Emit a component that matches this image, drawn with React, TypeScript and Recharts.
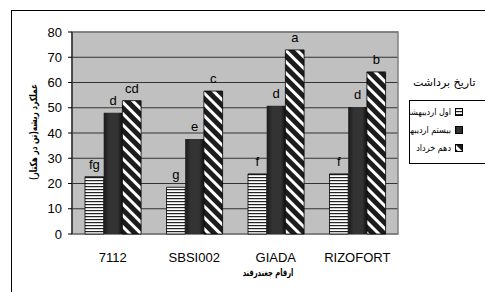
import { BarChart, Bar, XAxis, YAxis, CartesianGrid, LabelList, ReferenceArea } from "recharts";

const categories = ["7112", "SBSI002", "GIADA", "RIZOFORT"];
const firstOrdibehesht = [22.7, 18.5, 23.8, 23.8];
const twentiethOrdibehesht = [48.0, 37.6, 50.8, 50.3];
const tenthKhordad = [52.8, 56.6, 72.9, 64.2];
const firstLetters = ["fg", "g", "f", "f"];
const twentiethLetters = ["d", "e", "d", "d"];
const tenthLetters = ["cd", "c", "a", "b"];
const yTicks = [0, 10, 20, 30, 40, 50, 60, 70, 80];
const seriesNames = ["اول اردیبهشت", "بیستم اردیبهشت", "دهم خرداد"];
const seriesFills = ["url(#hstripe)", "url(#darkfill)", "url(#dstripe)"];

const data = categories.map((name, i) => ({
  name,
  s1: firstOrdibehesht[i],
  s2: twentiethOrdibehesht[i],
  s3: tenthKhordad[i],
  l1: firstLetters[i],
  l2: twentiethLetters[i],
  l3: tenthLetters[i],
}));

const LATIN = "'Liberation Sans', Arial, sans-serif";
const PERSIAN = "'DejaVu Sans Condensed', 'DejaVu Sans', sans-serif";

function Patterns() {
  return (
    <svg width={0} height={0} style={{ position: "absolute" }}>
      <defs>
        <pattern id="hstripe" width={4} height={3} patternUnits="userSpaceOnUse">
          <rect width={4} height={3} fill="#ffffff" />
          <rect y={0} width={4} height={1.2} fill="#222" />
        </pattern>
        <linearGradient id="darkfill" x1="0" y1="0" x2="1" y2="0">
          <stop offset="0%" stopColor="#1a1a1a" />
          <stop offset="30%" stopColor="#333" />
          <stop offset="75%" stopColor="#333" />
          <stop offset="100%" stopColor="#111" />
        </linearGradient>
        <pattern id="dstripe" width={8} height={8} patternUnits="userSpaceOnUse" patternTransform="rotate(45)">
          <rect width={8} height={8} fill="#1c1c1c" />
          <rect y={0} width={8} height={3} fill="#ffffff" />
        </pattern>
      </defs>
    </svg>
  );
}

export default function App() {
  return (
    <div
      style={{
        position: "absolute",
        left: 0,
        top: 0,
        width: 485,
        height: 292,
        background: "#fff",
        overflow: "hidden",
      }}
    >
      <Patterns />
      <div
        style={{
          position: "absolute",
          left: 11,
          top: 10,
          width: 520,
          height: 320,
          border: "1px solid #000",
        }}
      />
      <div style={{ position: "absolute", left: 0, top: 0 }}>
        <BarChart
          width={410}
          height={292}
          data={data}
          margin={{ top: 32, right: 12, bottom: 28, left: 0 }}
          barGap={0}
          barSize={18.7}
        >
          <CartesianGrid horizontal vertical={false} fill="#c0c0c0" stroke="#333" />
          <XAxis
            xAxisId="edge"
            type="number"
            domain={[0, 4]}
            ticks={[0, 1, 2, 3, 4]}
            tick={() => <g />}
            height={0}
            tickSize={5}
            axisLine={{ stroke: "#000" }}
            tickLine={{ stroke: "#000" }}
          />
          <XAxis
            dataKey="name"
            height={30}
            axisLine={false}
            tickLine={false}
            tickMargin={13}
            tick={{ fill: "#000", fontSize: 13, fontFamily: LATIN }}
          />
          <YAxis
            width={72}
            domain={[0, 80]}
            ticks={yTicks}
            interval={0}
            tickSize={4}
            tickMargin={6}
            axisLine={{ stroke: "#000" }}
            tickLine={{ stroke: "#000" }}
            tick={{ fill: "#000", fontSize: 13, fontFamily: LATIN }}
          />
          <ReferenceArea y1={0} y2={80} fill="none" stroke="#808080" strokeWidth={1.5} />
          <Bar dataKey="s1" fill={seriesFills[0]} stroke="#000" strokeWidth={0.8} isAnimationActive={false}>
            <LabelList dataKey="l1" position="top" offset={8} fill="#000" fontSize={13} fontFamily={LATIN} />
          </Bar>
          <Bar dataKey="s2" fill={seriesFills[1]} isAnimationActive={false}>
            <LabelList dataKey="l2" position="top" offset={8} fill="#000" fontSize={13} fontFamily={LATIN} />
          </Bar>
          <Bar dataKey="s3" fill={seriesFills[2]} stroke="#000" strokeWidth={0.8} isAnimationActive={false}>
            <LabelList dataKey="l3" position="top" offset={8} fill="#000" fontSize={13} fontFamily={LATIN} />
          </Bar>
        </BarChart>
      </div>

      {/* y axis title */}
      <div
        style={{
          position: "absolute",
          left: 33,
          top: 132,
          transform: "translate(-50%, -50%) rotate(-90deg) scaleX(0.82)",
          whiteSpace: "nowrap",
          fontFamily: PERSIAN,
          fontWeight: "bold",
          fontSize: 10,
          direction: "rtl",
        }}
      >
        عملکرد ریشه(تن در هکتار)
      </div>

      {/* x axis title */}
      <div
        style={{
          position: "absolute",
          left: 268,
          top: 272,
          transform: "translate(-50%, -50%) scaleX(0.75)",
          whiteSpace: "nowrap",
          fontFamily: PERSIAN,
          fontWeight: "bold",
          fontSize: 10,
          direction: "rtl",
        }}
      >
        ارقام چغندرقند
      </div>

      {/* legend */}
      <div
        style={{
          position: "absolute",
          left: 413,
          top: 82,
          transform: "translateY(-50%)",
          whiteSpace: "nowrap",
          fontFamily: "'DejaVu Sans', sans-serif",
          fontSize: 11,
          direction: "rtl",
        }}
      >
        تاریخ برداشت
      </div>
      <div
        style={{
          position: "absolute",
          left: 409,
          top: 100,
          width: 100,
          height: 62,
          border: "1px solid #000",
          background: "#fff",
        }}
      >
        {seriesNames.map((n, i) => (
          <div
            key={n}
            style={{
              position: "absolute",
              left: 0,
              top: 4 + i * 18,
              width: 53,
              height: 14,
              overflow: "hidden",
              display: "flex",
              justifyContent: "flex-end",
              alignItems: "center",
              gap: 4,
            }}
          >
            <span style={{ whiteSpace: "nowrap", fontFamily: PERSIAN, fontSize: 9, direction: "rtl" }}>{n}</span>
            <svg width={8} height={8} style={{ flex: "none" }}>
              <rect x={0.5} y={0.5} width={7} height={7} fill={seriesFills[i]} stroke="#000" strokeWidth={1} />
            </svg>
          </div>
        ))}
      </div>
    </div>
  );
}
